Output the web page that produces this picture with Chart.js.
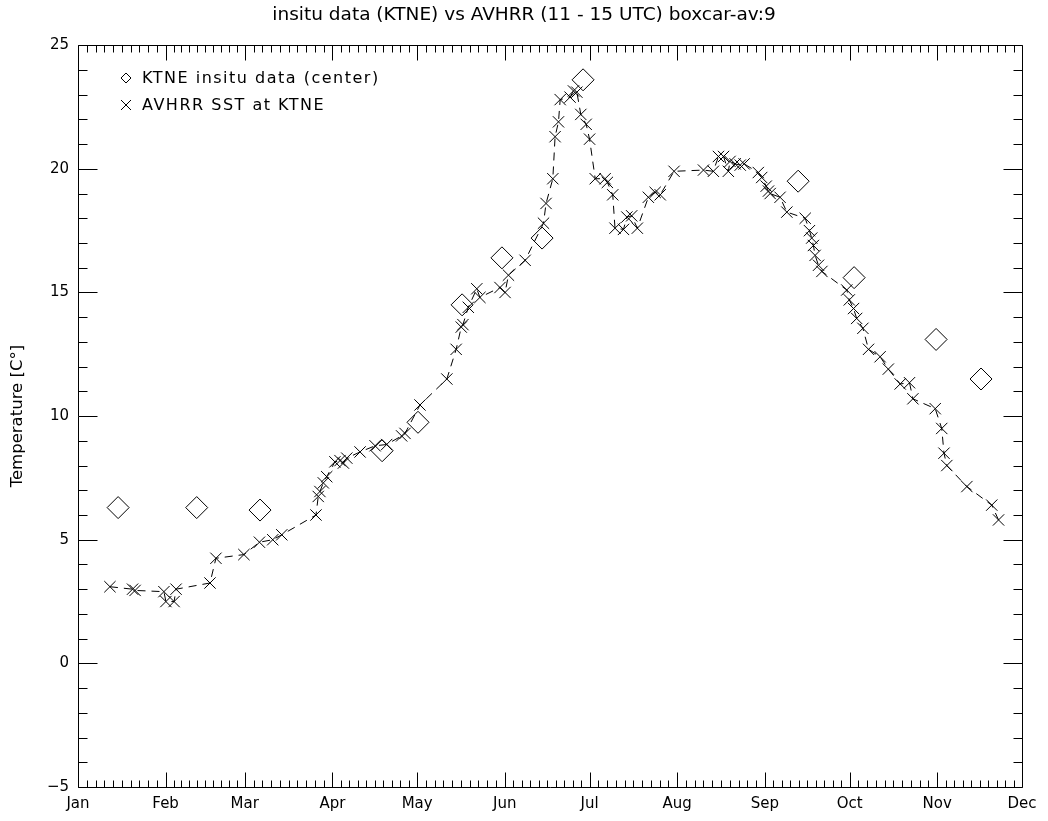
<!DOCTYPE html>
<html>
<head>
<meta charset="utf-8">
<title>insitu data (KTNE) vs AVHRR</title>
<script src="https://cdn.jsdelivr.net/npm/chart.js@4.4.0/dist/chart.umd.min.js"></script>
<style>
  html, body { margin: 0; padding: 0; background: #fff; }
  #wrap { width: 1048px; height: 821px; }
</style>
</head>
<body>
<div id="wrap"><canvas id="sst"></canvas></div>
<script>
// x axis is day of year (Jan 1 = 0), labelled by month
const monthStarts = [0, 31, 59, 90, 120, 151, 181, 212, 243, 273, 304, 334];
const monthLabels = ['Jan', 'Feb', 'Mar', 'Apr', 'May', 'Jun', 'Jul', 'Aug', 'Sep', 'Oct', 'Nov', 'Dec'];
const tempTicks = [-5, 0, 5, 10, 15, 20, 25];

// KTNE insitu data (center)
const insituDays = [14.2, 42, 64.4, 107.6, 120.3, 135.9, 150, 164.2, 178.7, 254.8, 274.6, 303.6, 319.5];
const insituTemps = [6.3, 6.3, 6.2, 8.6, 9.75, 14.5, 16.4, 17.2, 23.6, 19.5, 15.6, 13.1, 11.5];

// AVHRR SST at KTNE
const avhrrDays = [
  11.3, 19.3, 20.2, 30.4, 31.1, 34.0, 34.7, 46.7, 48.8, 58.7,
  64.2, 68.9, 72.1, 84.2, 85.0, 85.6, 86.8, 88.0, 90.9, 92.7,
  93.9, 95.1, 99.8, 105.1, 109.2, 114.5, 115.7, 121.0, 130.5, 133.8,
  135.6, 136.2, 138.1, 141.1, 142.2, 149.3, 151.1, 152.3, 158.2, 164.7,
  165.6, 168.0, 168.8, 170.0, 170.6, 174.1, 175.3, 176.5, 177.9, 179.8,
  181.0, 183.0, 186.5, 187.3, 189.2, 190.0, 193.0, 194.2, 195.9, 197.9,
  201.8, 204.2, 206.0, 210.9, 221.3, 224.8, 226.6, 228.4, 230.1, 230.7,
  232.5, 234.3, 235.7, 240.7, 241.9, 243.5, 244.3, 244.9, 248.4, 250.8,
  257.3, 258.8, 259.6, 260.2, 260.8, 262.0, 263.2, 272.0, 272.9, 274.4,
  275.5, 277.7, 279.7, 283.8, 286.7, 290.9, 294.2, 295.4, 303.3, 305.6,
  306.4, 307.4, 314.5, 323.3, 325.7
];
const avhrrTemps = [
  3.1, 3.0, 2.95, 2.9, 2.5, 2.5, 3.0, 3.25, 4.25, 4.4,
  4.9, 5.0, 5.2, 6.0, 6.75, 6.95, 7.3, 7.55, 8.15, 8.2,
  8.1, 8.3, 8.55, 8.8, 8.85, 9.2, 9.3, 10.45, 11.5, 12.7,
  13.6, 13.7, 14.4, 15.15, 14.8, 15.2, 15.0, 15.7, 16.3, 17.8,
  18.6, 19.6, 21.3, 21.9, 22.8, 22.9, 23.15, 23.1, 22.2, 21.8,
  21.2, 19.6, 19.6, 19.45, 18.95, 17.6, 17.55, 18.05, 18.1, 17.6,
  18.85, 19.05, 18.95, 19.9, 19.95, 19.9, 20.5, 20.5, 19.9, 20.3,
  20.2, 20.15, 20.2, 19.85, 19.65, 19.3, 19.1, 19.0, 18.85, 18.25,
  18.0, 17.5, 17.2, 16.9, 16.5, 16.1, 15.85, 15.1, 14.7, 14.35,
  13.95, 13.55, 12.7, 12.4, 11.9, 11.3, 11.35, 10.7, 10.3, 9.5,
  8.5, 8.0, 7.15, 6.4, 5.8
];

const FONT = "'DejaVu Sans', 'Liberation Sans', sans-serif";

// box round the plot with IDL-style inward ticks, plus the legend inside
const idlFrame = {
  id: 'idlFrame',
  afterDatasetsDraw(chart) {
    const { ctx, chartArea: a, scales: { x, y } } = chart;
    const px = v => Math.round(v) + 0.5;
    ctx.save();
    ctx.strokeStyle = '#000';
    ctx.lineWidth = 1;
    ctx.beginPath();
    ctx.rect(px(a.left), px(a.top), Math.round(a.right - a.left), Math.round(a.bottom - a.top));

    const xTick = (v, len) => {
      const p = px(x.getPixelForValue(v));
      ctx.moveTo(p, px(a.bottom)); ctx.lineTo(p, px(a.bottom) - len);
      ctx.moveTo(p, px(a.top)); ctx.lineTo(p, px(a.top) + len);
    };
    const yTick = (v, len) => {
      const p = px(y.getPixelForValue(v));
      ctx.moveTo(px(a.left), p); ctx.lineTo(px(a.left) + len, p);
      ctx.moveTo(px(a.right), p); ctx.lineTo(px(a.right) - len, p);
    };
    for (let i = 0; i < monthStarts.length - 1; i++) {
      const span = monthStarts[i + 1] - monthStarts[i];
      xTick(monthStarts[i], 15);
      for (let k = 1; k < 10; k++) xTick(monthStarts[i] + k * span / 10, 7);
    }
    for (let v = -5; v <= 25; v++) yTick(v, v % 5 === 0 ? 19 : 9);
    ctx.stroke();

    // legend
    ctx.beginPath();
    ctx.moveTo(126, 73); ctx.lineTo(131, 78); ctx.lineTo(126, 83); ctx.lineTo(121, 78); ctx.closePath();
    ctx.moveTo(121, 100); ctx.lineTo(131, 110);
    ctx.moveTo(131, 100); ctx.lineTo(121, 110);
    ctx.stroke();
    ctx.fillStyle = '#000';
    ctx.font = '16px ' + FONT;
    ctx.letterSpacing = '1.5px';
    ctx.textBaseline = 'middle';
    ctx.fillText('KTNE insitu data (center)', 142, 79);
    ctx.fillText('AVHRR SST at KTNE', 142, 106);
    ctx.restore();
  }
};

new Chart(document.getElementById('sst'), {
  type: 'scatter',
  data: {
    datasets: [
      {
        label: 'KTNE insitu data (center)',
        data: insituDays.map((d, i) => ({ x: d, y: insituTemps[i] })),
        pointStyle: 'rectRot',
        pointRadius: 11,
        pointBorderWidth: 1,
        borderColor: '#000',
        backgroundColor: 'rgba(0,0,0,0)',
        showLine: false
      },
      {
        label: 'AVHRR SST at KTNE',
        data: avhrrDays.map((d, i) => ({ x: d, y: avhrrTemps[i] })),
        pointStyle: 'crossRot',
        pointRadius: 8,
        pointBorderWidth: 1,
        borderColor: '#000',
        backgroundColor: '#000',
        borderWidth: 1,
        borderDash: [8, 6],
        showLine: true,
        tension: 0
      }
    ]
  },
  options: {
    responsive: true,
    maintainAspectRatio: false,
    animation: false,
    devicePixelRatio: 1,
    layout: { padding: 0 },
    plugins: {
      legend: { display: false },
      tooltip: { enabled: false },
      title: {
        display: true,
        text: 'insitu data (KTNE) vs AVHRR (11 - 15 UTC) boxcar-av:9',
        color: '#000',
        font: { family: FONT, size: 18.5, weight: 'normal' },
        padding: { top: 4, bottom: 19 }
      }
    },
    scales: {
      x: {
        type: 'linear',
        min: monthStarts[0],
        max: monthStarts[monthStarts.length - 1],
        afterBuildTicks: s => { s.ticks = monthStarts.map(v => ({ value: v })); },
        afterFit: s => { s.height = 34; },
        grid: { display: false, drawTicks: false },
        border: { display: false },
        ticks: {
          color: '#000',
          padding: 8,
          maxRotation: 0,
          autoSkip: false,
          font: { family: FONT, size: 15 },
          callback: v => monthLabels[monthStarts.indexOf(v)]
        }
      },
      y: {
        min: -5,
        max: 25,
        afterBuildTicks: s => { s.ticks = tempTicks.map(v => ({ value: v })); },
        afterFit: s => { s.width = 78; },
        grid: { display: false, drawTicks: false },
        border: { display: false },
        title: {
          display: true,
          text: 'Temperature [C°]',
          color: '#000',
          font: { family: FONT, size: 16.5 },
          padding: { top: 8 }
        },
        ticks: {
          color: '#000',
          padding: 9,
          font: { family: FONT, size: 15 },
          callback: v => (v < 0 ? '\u2212' + Math.abs(v) : String(v))
        }
      },
      // empty right-hand strip so the plot box ends where the original does
      yRight: {
        position: 'right',
        min: -5,
        max: 25,
        afterFit: s => { s.width = 26; },
        grid: { display: false, drawTicks: false },
        border: { display: false },
        ticks: { display: false }
      }
    }
  },
  plugins: [idlFrame]
});
</script>
</body>
</html>
